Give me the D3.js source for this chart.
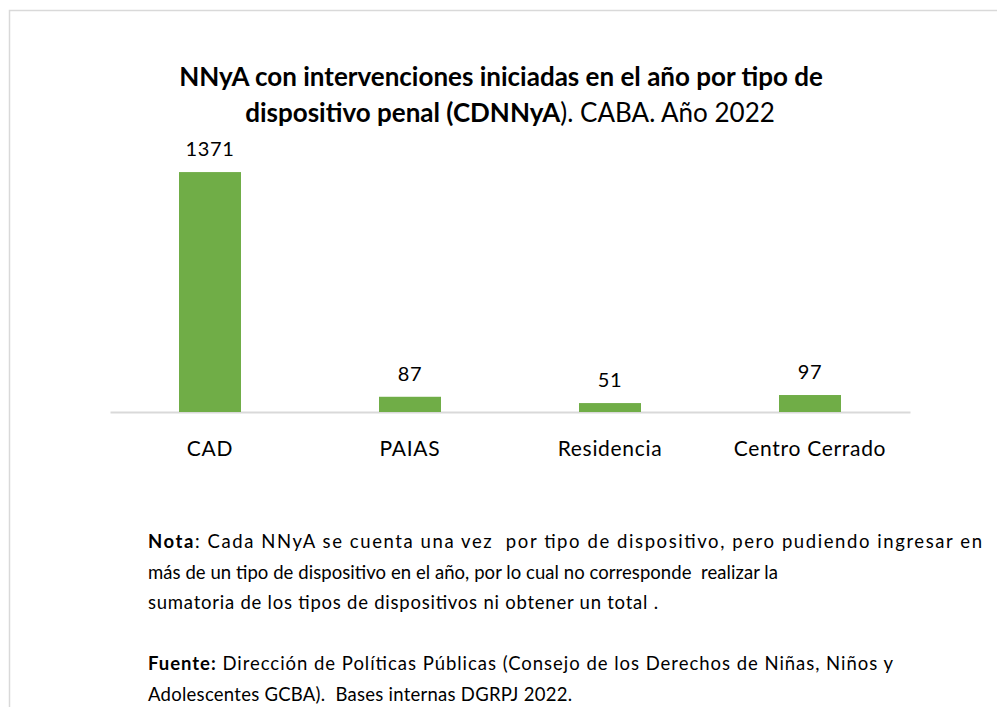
<!DOCTYPE html>
<html>
<head>
<meta charset="utf-8">
<script src="https://cdn.jsdelivr.net/npm/d3@7"></script>
<style>
  body { margin: 0; background: #fff; }
  text { font-family: Lato, "Open Sans", sans-serif; fill: #000; }
</style>
</head>
<body>
<div id="main"></div>
<script>
var categories = ["CAD", "PAIAS", "Residencia", "Centro Cerrado"];
var values = [1371, 87, 51, 97];

var titleBold1 = "NNyA con intervenciones iniciadas en el año por tipo de";
var titleBold2 = "dispositivo penal (CDNNyA";
var titleRest2 = "). CABA. Año 2022";

var notaLines = [
  [["Nota", true], [": Cada NNyA se cuenta una vez  por tipo de dispositivo, pero pudiendo ingresar en", false]],
  [["más de un tipo de dispositivo en el año, por lo cual no corresponde  realizar la", false]],
  [["sumatoria de los tipos de dispositivos ni obtener un total .", false]]
];
var fuenteLines = [
  [["Fuente:", true], [" Dirección de Políticas Públicas (Consejo de los Derechos de Niñas, Niños y", false]],
  [["Adolescentes GCBA).  Bases internas DGRPJ 2022.", false]]
];

var W = 997, H = 707;

// widths the note lines take in the source image (its spacing is uneven)
var notaWidths = [834, 630, 510];
var fuenteWidths = [745, 424];

var translate = function(x,y){
  return "translate(" + x + "," + y + ")";
}

var svg = d3.select("#main").append("svg")
    .attr("width", W)
    .attr("height", H)

// frame (only top + left show, the rest is cropped)
svg.append("path")
    .attr("d", "M9.5," + H + "V10.5H" + W)
    .attr("fill", "none")
    .attr("stroke", "#d9d9d9")
    .attr("stroke-width", 1.5)

// title
var title = svg.append("text")
    .attr("text-anchor", "middle")
    .style("font-size", "26px")
title.append("tspan")
    .attr("x", 501).attr("y", 86)
    .style("font-weight", "bold")
    .text(titleBold1)
var t2 = title.append("tspan")
    .attr("x", 510).attr("y", 122)
t2.append("tspan").style("font-weight", "bold").text(titleBold2)
t2.append("tspan").text(titleRest2)

// chart
var base = 412;

var x = d3.scaleBand()
    .domain(categories)
    .range([110, 910])
    .paddingInner(0.69)
    .paddingOuter(0.345);

var y = d3.scaleLinear()
    .domain([0, 1600])
    .range([base, 132]);

var xAxis = d3.axisBottom(x).tickSize(0).tickPadding(29);

var axisG = svg.append("g")
    .attr("transform", translate(0, base))
    .call(xAxis);
axisG.select(".domain")
    .attr("stroke", "#d9d9d9")
    .attr("stroke-width", 2);
axisG.selectAll("text")
    .style("font-size", "21px")
    .style("font-family", "Lato, sans-serif")
    .style("letter-spacing", "0.7px")
    .attr("fill", "#000");

svg.selectAll(".bar")
    .data(values)
    .enter().append("rect")
    .attr("class", "bar")
    .attr("x", function(d,i){ return x(categories[i]); })
    .attr("width", x.bandwidth())
    .attr("y", function(d){ return y(d); })
    .attr("height", function(d){ return base - y(d); })
    .attr("fill", "#70ad47")

svg.selectAll(".lbl")
    .data(values)
    .enter().append("text")
    .attr("class", "lbl")
    .attr("text-anchor", "middle")
    .attr("x", function(d,i){ return x(categories[i]) + x.bandwidth()/2; })
    .attr("y", function(d){ return y(d) - 16; })
    .style("font-size", "20px")
    .style("letter-spacing", "0.6px")
    .text(function(d){ return d; })

// notes
var drawBlock = function(lines, widths, y0){
  lines.forEach(function(parts, i){
    var t = svg.append("text")
        .attr("x", 148)
        .attr("y", y0 + i*30.5)
        .attr("textLength", widths[i])
        .attr("lengthAdjust", "spacing")
        .style("font-size", "18.5px")
    parts.forEach(function(p){
      t.append("tspan")
        .style("font-weight", p[1] ? "bold" : "normal")
        .style("white-space", "pre")
        .text(p[0]);
    });
  });
}
drawBlock(notaLines, notaWidths, 548);
drawBlock(fuenteLines, fuenteWidths, 670);
</script>
</body>
</html>
